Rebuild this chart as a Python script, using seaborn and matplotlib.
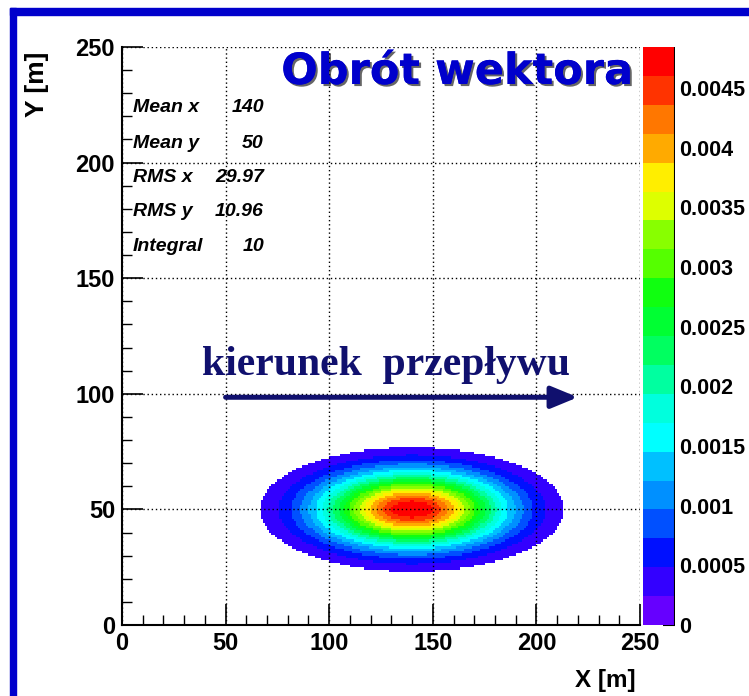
import numpy as np
import matplotlib
matplotlib.use("Agg")
import matplotlib.pyplot as plt
import matplotlib.patheffects as pe
from matplotlib.colors import BoundaryNorm, ListedColormap
from matplotlib.patches import Rectangle
from matplotlib.ticker import MultipleLocator
import seaborn as sns

# statistics of the 2D distribution (read from the stats box)
mean_x = 140
mean_y = 50
rms_x = 29.97
rms_y = 10.96
integral = 10

stat_names = ["Mean x", "Mean y", "RMS x", "RMS y", "Integral"]
stat_values = ["140", "50", "29.97", "10.96", "10"]

axis_ticks = [0, 50, 100, 150, 200, 250]
cbar_ticks = [0, 0.0005, 0.001, 0.0015, 0.002, 0.0025, 0.003, 0.0035, 0.004, 0.0045]
cbar_labels = ["0", "0.0005", "0.001", "0.0015", "0.002", "0.0025", "0.003", "0.0035", "0.004", "0.0045"]

# 20 contour colours, bottom to top
level_colors = ["#6600ff", "#3300ff", "#0010ff", "#0050ff", "#0090ff",
                "#00c0ff", "#00ffff", "#00ffdd", "#00ffa0", "#00ff60",
                "#00ff33", "#10ff10", "#55ff00", "#88ff00", "#ddff00",
                "#ffee00", "#ffaa00", "#ff7700", "#ff3300", "#ff0000"]

# flow arrow (data coords)
arrow_start = (50, 98.5)
arrow_end = (220, 98.5)

sns.set_theme(style="white")
plt.rcParams["font.family"] = ["Liberation Sans", "DejaVu Sans"]
plt.rcParams["text.color"] = "black"
plt.rcParams["xtick.color"] = "black"
plt.rcParams["ytick.color"] = "black"
plt.rcParams["axes.labelcolor"] = "black"

W, H = 749, 696
fig = plt.figure(figsize=(W / 100, H / 100), dpi=100)
fig.patch.set_facecolor("white")

def fx(px):
    return px / W

def fy(py):
    return 1 - py / H

ax = fig.add_axes([fx(122), fy(625), fx(640) - fx(122), fy(47) - fy(625)])
cax = fig.add_axes([fx(643), fy(625), fx(675) - fx(643), fy(47) - fy(625)])

# histogram of the gaussian, 1 m bins
edges = np.arange(0, 251, 1)
centers = (edges[:-1] + edges[1:]) / 2
gx, gy = np.meshgrid(centers, centers)
peak = integral / (2 * np.pi * rms_x * rms_y)
z = peak * np.exp(-0.5 * ((gx - mean_x) / rms_x) ** 2 - 0.5 * ((gy - mean_y) / rms_y) ** 2)
levels = np.linspace(0, peak, len(level_colors) + 1)
z = np.ma.masked_less(z, levels[1])

cmap = ListedColormap(sns.color_palette(level_colors))
norm = BoundaryNorm(levels, len(level_colors))
mesh = ax.pcolormesh(edges, edges, z, cmap=cmap, norm=norm, zorder=1)

ax.set_xlim(0, 250)
ax.set_ylim(0, 250)
ax.set_xticks(axis_ticks)
ax.set_yticks(axis_ticks)
ax.xaxis.set_minor_locator(MultipleLocator(10))
ax.yaxis.set_minor_locator(MultipleLocator(10))
ax.tick_params(which="major", direction="in", length=15, width=1.2, color="black",
               labelcolor="black", labelsize=17, pad=5, bottom=True, left=True)
ax.tick_params(which="minor", direction="in", length=7, width=1.0, color="black",
               bottom=True, left=True)
for lab in ax.get_xticklabels() + ax.get_yticklabels():
    lab.set_fontweight("bold")
ax.grid(True, which="major", linestyle=(0, (1, 2)), color="black", lw=1.0)
ax.set_axisbelow(False)
for s in ["top", "right"]:
    ax.spines[s].set_visible(False)
for s in ["left", "bottom"]:
    ax.spines[s].set_color("black")
    ax.spines[s].set_linewidth(1.5)
ax.set_facecolor("white")

# colour bar
cb = fig.colorbar(mesh, cax=cax, ticks=cbar_ticks)
cb.outline.set_visible(False)
cax.set_ylim(0, peak)
cax.set_yticklabels(cbar_labels)
cax.yaxis.set_ticks_position("right")
cax.tick_params(direction="in", length=9, width=1.5, color="black", labelcolor="black",
                labelsize=15.5, pad=3)
cax.minorticks_off()
for lab in cax.get_yticklabels():
    lab.set_fontweight("bold")
cax.axvline(1, color="black", lw=1.5)

# stats box
row_y = [108, 143, 178, 212, 247]
for name, val, py in zip(stat_names, stat_values, row_y):
    fig.text(fx(133), fy(py), name, ha="left", va="center", fontsize=14,
             fontweight="bold", fontstyle="italic", color="black")
    fig.text(fx(264), fy(py), val, ha="right", va="center", fontsize=14,
             fontweight="bold", fontstyle="italic", color="black")

# flow direction
ax.annotate("", xy=arrow_end, xytext=arrow_start,
            arrowprops=dict(arrowstyle="-|>,head_length=0.8,head_width=0.33",
                            mutation_scale=20, lw=3.6, color="#10106e",
                            shrinkA=0, shrinkB=0), zorder=5)
fig.text(fx(386), fy(375), "kierunek  przepływu", ha="center", va="baseline",
         fontsize=30, fontweight="bold", color="#10106e",
         family=["Liberation Serif", "DejaVu Serif"])

# title
fig.text(fx(457), fy(72), "Obrót wektora", ha="center", va="center",
         fontsize=31, fontweight="bold", color="#0000cc", family=["DejaVu Sans"],
         path_effects=[pe.withSimplePatchShadow(offset=(1.5, -1.5), shadow_rgbFace="black", alpha=0.6),
                       pe.Normal()])

# axis titles
fig.text(fx(636), fy(681), "X [m]", ha="right", va="center", fontsize=17.5,
         fontweight="bold", color="black")
fig.text(fx(37), fy(84), "Y [m]", ha="center", va="center", rotation=90,
         fontsize=19, fontweight="bold", color="black")

# blue frame
fig.patches.append(Rectangle((fx(10), fy(15)), 1 - fx(10), fy(8) - fy(15),
                             transform=fig.transFigure, color="#0000cc", zorder=0))
fig.patches.append(Rectangle((fx(10), 0), fx(16) - fx(10), fy(8),
                             transform=fig.transFigure, color="#0000cc", zorder=0))

fig.savefig("out.png", dpi=100)
